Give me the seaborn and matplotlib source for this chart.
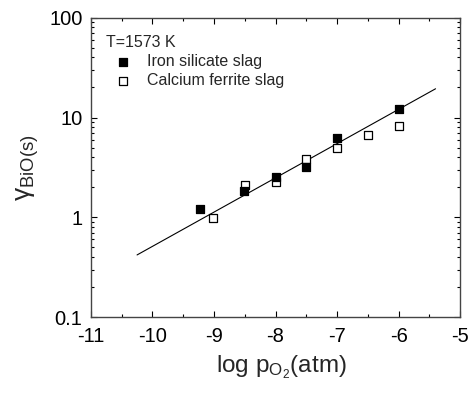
import matplotlib
matplotlib.use("Agg")
import matplotlib.pyplot as plt
import matplotlib.ticker as mticker
import seaborn as sns
import pandas as pd

# Data
iron_x = [-9.23, -8.51, -8.0, -7.5, -7.0, -6.0]
iron_y = [1.2, 1.83, 2.55, 3.18, 6.2, 12.1]
calc_x = [-9.01, -8.5, -8.0, -7.5, -7.0, -6.5, -6.0]
calc_y = [0.98, 2.12, 2.26, 3.83, 5.0, 6.7, 8.2]
fit_x = [-10.25, -5.4]
fit_y = [0.42, 19.4]
x_ticks = [-11, -10, -9, -8, -7, -6, -5]
y_ticks = [0.1, 1, 10, 100]
y_ticklabels = ["0.1", "1", "10", "100"]

sns.set_style("ticks")
plt.rcParams['font.family'] = ['Liberation Sans', 'DejaVu Sans']
plt.rcParams['mathtext.fontset'] = 'custom'
plt.rcParams['mathtext.rm'] = 'Liberation Sans'
plt.rcParams['mathtext.it'] = 'Liberation Sans:italic'

fig = plt.figure(figsize=(4.71, 3.93), dpi=100)
ax = fig.add_axes([0.193, 0.193, 0.784, 0.762])

df_fit = pd.DataFrame({"x": fit_x, "y": fit_y})
sns.lineplot(data=df_fit, x="x", y="y", ax=ax, color="black", linewidth=0.8)

df_i = pd.DataFrame({"x": iron_x, "y": iron_y})
df_c = pd.DataFrame({"x": calc_x, "y": calc_y})
sns.scatterplot(data=df_c, x="x", y="y", ax=ax, marker="s", s=28,
                facecolor="white", edgecolor="black", linewidth=0.9,
                label="Calcium ferrite slag", zorder=3)
sns.scatterplot(data=df_i, x="x", y="y", ax=ax, marker="s", s=28,
                color="black", edgecolor="black", linewidth=0.9,
                label="Iron silicate slag", zorder=4)

ax.set_yscale("log")
ax.set_xlim(-11, -5)
ax.set_ylim(0.1, 100)
ax.set_xticks(x_ticks)
ax.set_xticklabels([str(t) for t in x_ticks])
ax.xaxis.set_minor_locator(mticker.MultipleLocator(0.5))
ax.set_yticks(y_ticks)
ax.set_yticklabels(y_ticklabels)
ax.yaxis.set_minor_locator(mticker.LogLocator(base=10, subs=range(2, 10)))
ax.yaxis.set_minor_formatter(mticker.NullFormatter())

ax.tick_params(which="both", direction="in", top=True, right=True, width=0.8,
               labelsize=14.5, colors="black")
ax.tick_params(axis="x", which="major", pad=7)
ax.tick_params(axis="y", which="major", pad=6)
ax.tick_params(which="major", length=4)
ax.tick_params(which="minor", length=2.5)
for sp in ax.spines.values():
    sp.set_visible(True)
    sp.set_linewidth(1.0)
    sp.set_color("#444444")

ax.set_xlabel(r"log p$_{\mathrm{O}_{2}}$(atm)", fontsize=17.5, labelpad=6)
ax.xaxis.set_label_coords(0.517, -0.12)
ax.set_ylabel("γ" + r"$_{\mathrm{BiO(s)}}$", fontsize=19, labelpad=6)

h, l = ax.get_legend_handles_labels()
order = [l.index("Iron silicate slag"), l.index("Calcium ferrite slag")]
leg = ax.legend([h[i] for i in order], [l[i] for i in order],
                title="T=1573 K", loc="upper left", frameon=False,
                fontsize=11.5, title_fontsize=11.5, alignment="left",
                handlelength=2.1, handletextpad=0.45, borderaxespad=0.5,
                labelspacing=0.25, bbox_to_anchor=(0.003, 0.99))

fig.savefig("out.png", dpi=100)
